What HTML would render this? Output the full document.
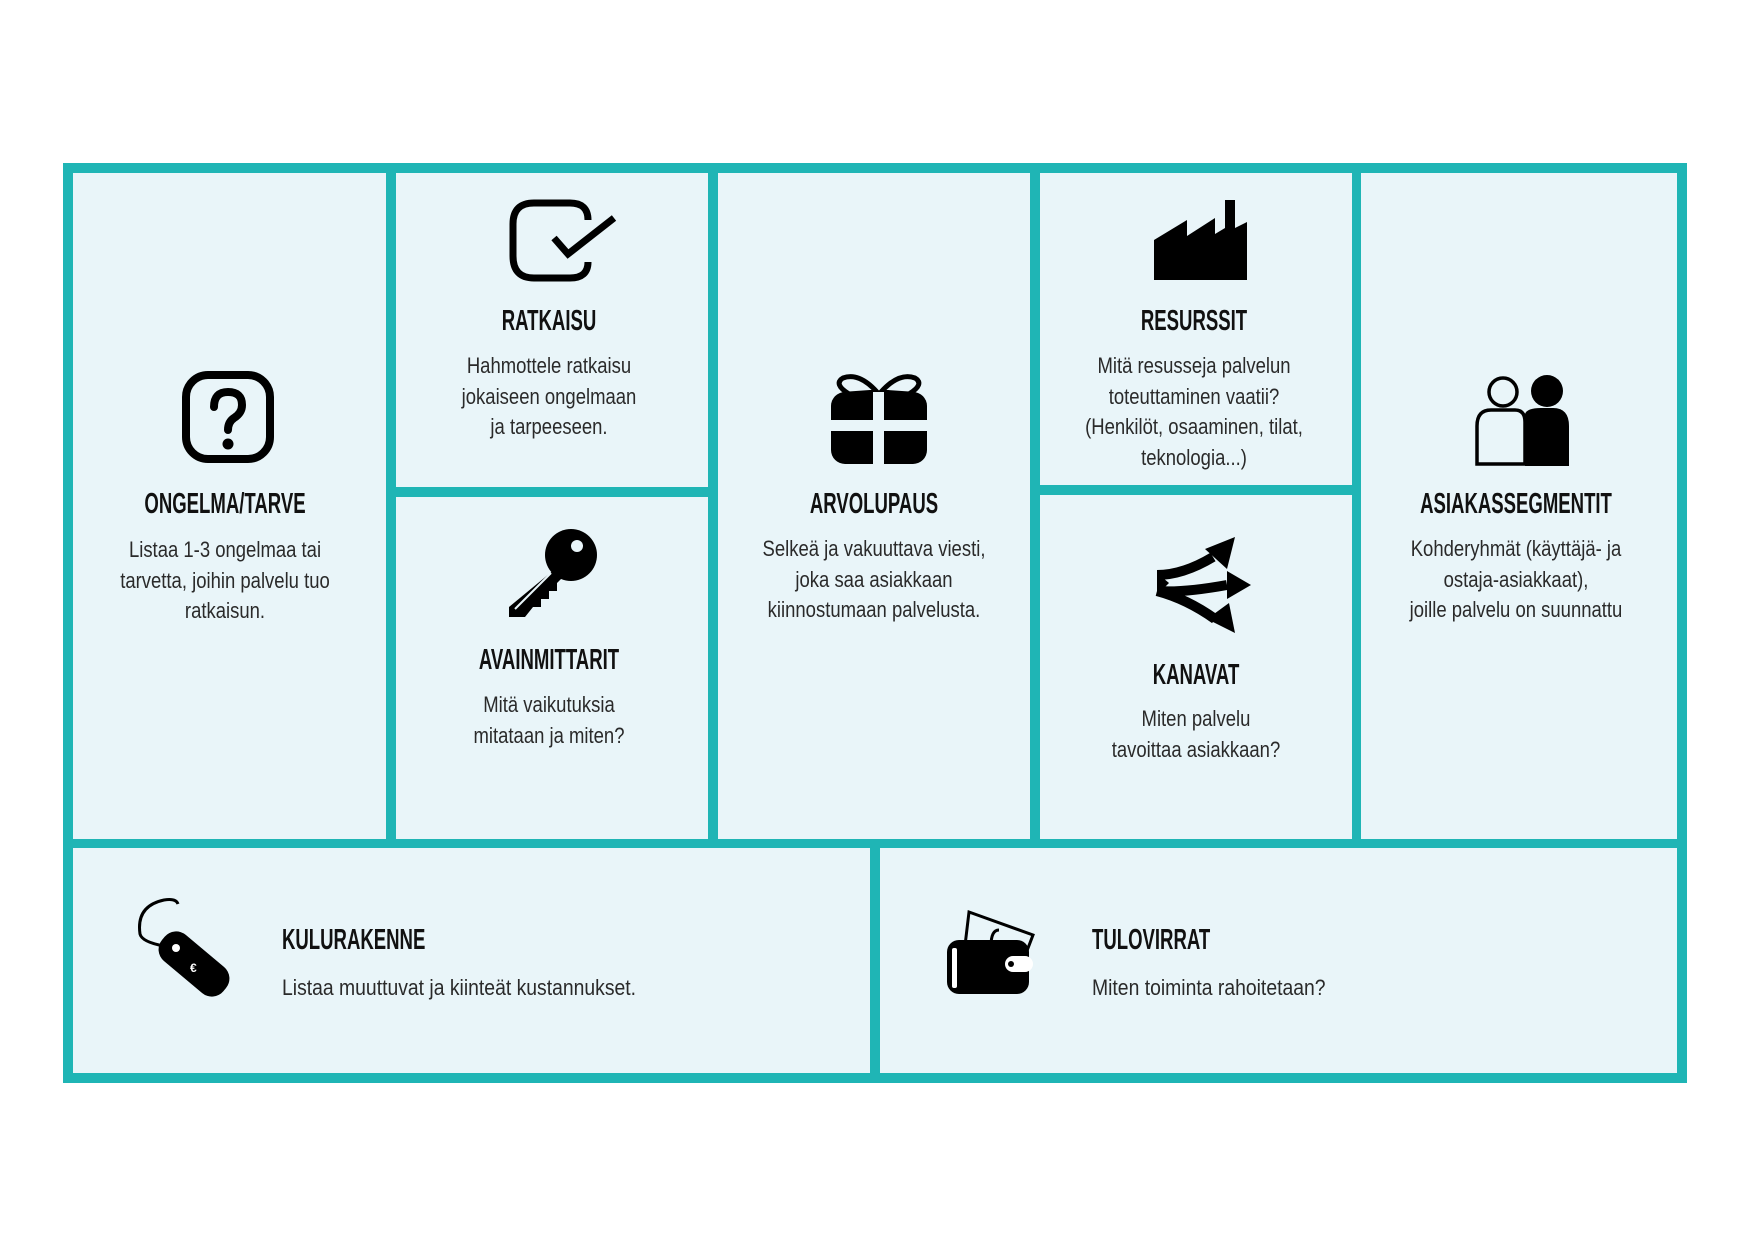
<!DOCTYPE html>
<html><head><meta charset="utf-8">
<style>
html,body{margin:0;padding:0;background:#fff;}
body{width:1754px;height:1240px;position:relative;overflow:hidden;font-family:"Liberation Sans",sans-serif;color:#111;}
.b{position:absolute;background:#e9f5f9;}
.t{position:absolute;width:400px;text-align:center;font-weight:bold;font-size:29px;line-height:30px;transform:scaleX(0.64);white-space:nowrap;}
.x{position:absolute;width:420px;text-align:center;font-size:22px;line-height:30.5px;transform:scaleX(0.84);white-space:nowrap;color:#2a2a2a;}
.tl{position:absolute;font-weight:bold;font-size:29px;line-height:30px;transform:scaleX(0.64);transform-origin:left center;white-space:nowrap;}
.xl{position:absolute;font-size:22px;line-height:30px;transform:scaleX(0.88);transform-origin:left center;white-space:nowrap;color:#2a2a2a;}
svg{position:absolute;}
</style></head><body>
<div style="position:absolute;left:63px;top:163px;width:1624px;height:920px;background:#1fb5b5;"></div>
<div class="b" style="left:73px;top:173px;width:313px;height:666px"></div>
<div class="b" style="left:396px;top:173px;width:312px;height:314px"></div>
<div class="b" style="left:396px;top:497px;width:312px;height:342px"></div>
<div class="b" style="left:718px;top:173px;width:312px;height:666px"></div>
<div class="b" style="left:1040px;top:173px;width:312px;height:312px"></div>
<div class="b" style="left:1040px;top:495px;width:312px;height:344px"></div>
<div class="b" style="left:1361px;top:173px;width:316px;height:666px"></div>
<div class="b" style="left:73px;top:848px;width:797px;height:225px"></div>
<div class="b" style="left:880px;top:848px;width:797px;height:225px"></div>

<svg style="left:181px;top:370px" width="94" height="94" viewBox="0 0 94 94">
<rect x="5" y="5" width="84" height="84" rx="22" fill="none" stroke="#000" stroke-width="8"/>
<path d="M33 37 Q33 22 47 22 Q61 22 61 35 Q61 43 53 48 Q47 52 47 60" fill="none" stroke="#000" stroke-width="8" stroke-linecap="round"/>
<circle cx="47" cy="74" r="5.5" fill="#000"/>
</svg>
<div class="t" style="left:25px;top:489px">ONGELMA/TARVE</div>
<div class="x" style="left:15px;top:535px">Listaa 1-3 ongelmaa tai<br>tarvetta, joihin palvelu tuo<br>ratkaisun.</div>

<svg style="left:508px;top:198px" width="110" height="86" viewBox="0 0 110 86">
<path d="M80 22 Q80 5 62 5 L26 5 Q5 5 5 26 L5 58 Q5 80 26 80 L62 80 Q80 80 80 64" fill="none" stroke="#000" stroke-width="7"/>
<path d="M46 40 L60 56 L106 20" fill="none" stroke="#000" stroke-width="7"/>
</svg>
<div class="t" style="left:349px;top:306px">RATKAISU</div>
<div class="x" style="left:339px;top:351px">Hahmottele ratkaisu<br>jokaiseen ongelmaan<br>ja tarpeeseen.</div>

<svg style="left:505px;top:525px" width="100" height="96" viewBox="0 0 100 96">
<circle cx="66" cy="30" r="26" fill="#000"/>
<circle cx="72" cy="21" r="6" fill="#e9f5f9"/>
<path d="M50 44 L58 52 L52 58 L52 66 L44 66 L44 74 L36 74 L36 82 L28 82 L20 92 L4 92 L4 82 Z" fill="#000"/>
<path d="M10 84 L46 48" stroke="#e9f5f9" stroke-width="2"/>
</svg>
<div class="t" style="left:349px;top:645px">AVAINMITTARIT</div>
<div class="x" style="left:339px;top:690px">Mitä vaikutuksia<br>mitataan ja miten?</div>

<svg style="left:829px;top:370px" width="100" height="96" viewBox="0 0 100 96">
<path d="M48 22 Q30 2 14 8 Q4 14 20 24 Z M52 22 Q70 2 86 8 Q96 14 80 24 Z" fill="none" stroke="#000" stroke-width="5"/>
<rect x="2" y="22" width="96" height="72" rx="14" fill="#000"/>
<rect x="44" y="22" width="11" height="72" fill="#e9f5f9"/>
<rect x="2" y="50" width="96" height="11" fill="#e9f5f9"/>
</svg>
<div class="t" style="left:674px;top:489px">ARVOLUPAUS</div>
<div class="x" style="left:664px;top:534px">Selkeä ja vakuuttava viesti,<br>joka saa asiakkaan<br>kiinnostumaan palvelusta.</div>

<svg style="left:1153px;top:198px" width="96" height="82" viewBox="0 0 96 82">
<path d="M1 42 L34 22 L34 38 L62 20 L62 36 L72 30 L72 2 L82 2 L82 30 L94 24 L94 82 L1 82 Z" fill="#000"/>
</svg>
<div class="t" style="left:994px;top:306px">RESURSSIT</div>
<div class="x" style="left:984px;top:351px">Mitä resusseja palvelun<br>toteuttaminen vaatii?<br>(Henkilöt, osaaminen, tilat,<br>teknologia...)</div>

<svg style="left:1153px;top:535px" width="100" height="100" viewBox="0 0 100 100">
<path d="M4 40 Q30 40 60 22 M4 56 Q30 58 74 50 M4 56 Q34 64 62 84" fill="none" stroke="#000" stroke-width="10"/>
<path d="M4 38 L4 60 L16 48 Z" fill="#000"/>
<path d="M82 2 L52 14 L74 34 Z" fill="#000"/>
<path d="M98 50 L74 36 L74 64 Z" fill="#000"/>
<path d="M82 98 L76 68 L54 84 Z" fill="#000"/>
</svg>
<div class="t" style="left:996px;top:660px">KANAVAT</div>
<div class="x" style="left:986px;top:704px">Miten palvelu<br>tavoittaa asiakkaan?</div>

<svg style="left:1475px;top:374px" width="96" height="92" viewBox="0 0 96 92">
<circle cx="72" cy="17" r="16" fill="#000"/>
<path d="M50 40 Q52 34 66 34 L78 34 Q94 34 94 52 L94 92 L50 92 Z" fill="#000"/>
<circle cx="28" cy="18" r="14" fill="none" stroke="#000" stroke-width="3.5"/>
<path d="M2 90 L2 52 Q2 36 16 36 L40 36 Q50 36 50 48 L50 90 Z" fill="none" stroke="#000" stroke-width="3.5"/>
</svg>
<div class="t" style="left:1316px;top:489px">ASIAKASSEGMENTIT</div>
<div class="x" style="left:1306px;top:534px">Kohderyhmät (käyttäjä- ja<br>ostaja-asiakkaat),<br>joille palvelu on suunnattu</div>

<svg style="left:136px;top:898px" width="100" height="100" viewBox="0 0 100 100">
<path d="M42 6 Q40 0 28 2 Q0 8 4 36 Q6 44 28 48" fill="none" stroke="#000" stroke-width="3"/>
<g transform="translate(58 66) rotate(40)">
<rect x="-40" y="-17" width="80" height="34" rx="15" fill="#000"/>
</g>
<circle cx="40" cy="50" r="4" fill="#fff"/>
<text x="54" y="74" font-size="12" font-weight="bold" fill="#fff" font-family="Liberation Sans, sans-serif">€</text>
</svg>
<div class="tl" style="left:282px;top:925px">KULURAKENNE</div>
<div class="xl" style="left:282px;top:973px">Listaa muuttuvat ja kiinteät kustannukset.</div>

<svg style="left:945px;top:908px" width="90" height="88" viewBox="0 0 90 88">
<path d="M19 46 L24 4 L88 27 L80 48" fill="#e9f5f9" stroke="#000" stroke-width="3"/>
<path d="M46 38 Q46 22 54 22" fill="none" stroke="#000" stroke-width="3"/>
<rect x="2" y="32" width="82" height="54" rx="12" fill="#000"/>
<rect x="7" y="40" width="5" height="40" rx="2" fill="#fff"/>
<rect x="60" y="48" width="28" height="16" rx="8" fill="#fff"/>
<circle cx="66" cy="56" r="3" fill="#000"/>
</svg>
<div class="tl" style="left:1092px;top:925px">TULOVIRRAT</div>
<div class="xl" style="left:1092px;top:973px">Miten toiminta rahoitetaan?</div>
</body></html>
